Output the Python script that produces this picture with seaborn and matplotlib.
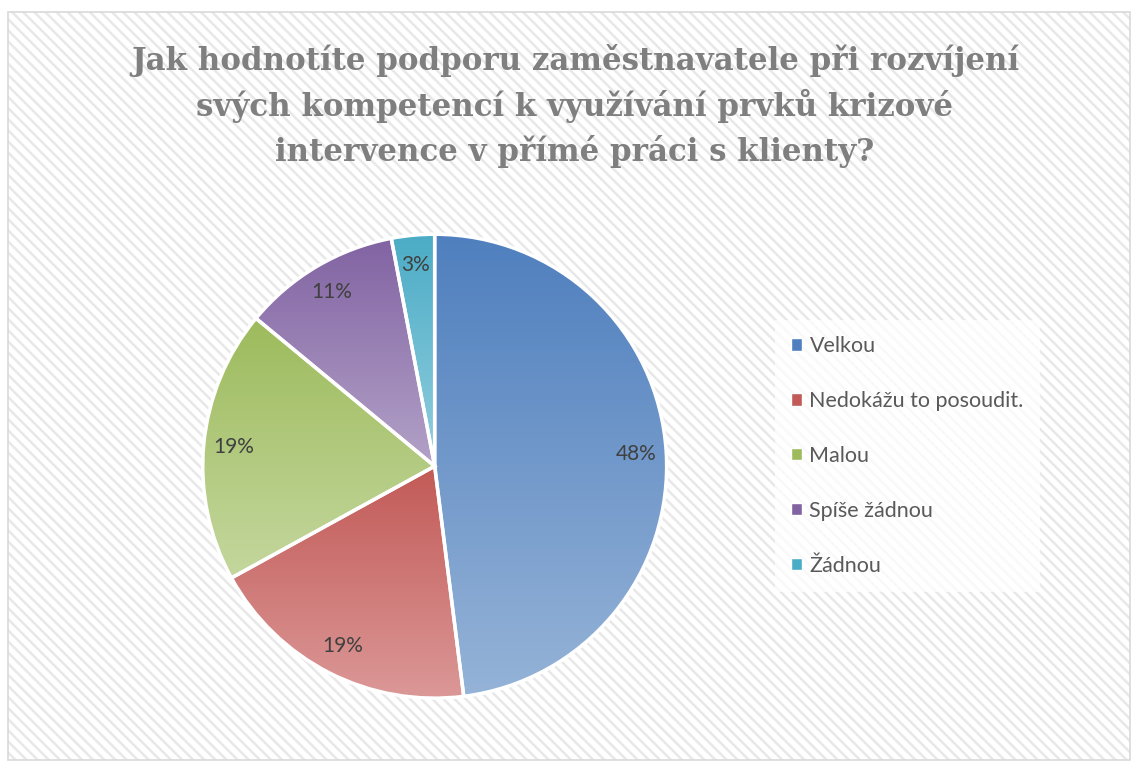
import numpy as np
import matplotlib
matplotlib.use('Agg')
import matplotlib.pyplot as plt
import seaborn as sns
from matplotlib.patches import Rectangle, Patch
from matplotlib.colors import LinearSegmentedColormap

sns.set_theme(style='white')
plt.rcParams['font.family'] = ['Lato', 'DejaVu Sans']
plt.rcParams['hatch.linewidth'] = 1.8

title = ('Jak hodnotíte podporu zaměstnavatele při rozvíjení\n'
         'svých kompetencí k využívání prvků krizové\n'
         'intervence v přímé práci s klienty?')
categories = ['Velkou', 'Nedokážu to posoudit.', 'Malou', 'Spíše žádnou', 'Žádnou']
values = [48, 19, 19, 11, 3]
top_colors = ['#4F7FBE', '#C25A57', '#9DBB5C', '#8163A2', '#4BACC6']
bottom_colors = ['#95B3D7', '#DB9897', '#C4D79E', '#B3A2C8', '#93CEDE']

fig = plt.figure(figsize=(11.32, 7.63), dpi=100)
fig.patch.set_facecolor('white')

# striped background with thin border
W, H = 1132, 763
bg = Rectangle((8 / W, 1 - 760 / H), 1122 / W, 748 / H, transform=fig.transFigure,
               facecolor='white', edgecolor='#E8E8E8', hatch='\\' * 3, linewidth=0, zorder=-2)
fig.patches.append(bg)
border = Rectangle((8 / W, 1 - 760 / H), 1122 / W, 748 / H, transform=fig.transFigure,
                   facecolor='none', edgecolor='#D9D9D9', linewidth=1.2, zorder=-1)
fig.patches.append(border)

ax = fig.add_axes([0.179, 0.085, 0.41, 0.608])
ax.set_facecolor('none')

wedges, texts, autotexts = ax.pie(
    values, startangle=90, counterclock=False, radius=1,
    autopct=lambda p: f'{p:.0f}%', pctdistance=0.87,
    wedgeprops=dict(edgecolor='white', linewidth=2.5),
    textprops=dict(fontsize=15, color='#404040'))

for w, c1, c2 in zip(wedges, top_colors, bottom_colors):
    ext = w.get_path().get_extents()
    cmap = LinearSegmentedColormap.from_list('g', [c2, c1])
    grad = np.linspace(0, 1, 256).reshape(-1, 1)
    im = ax.imshow(grad, cmap=cmap, origin='lower', aspect='auto',
                   extent=[ext.x0, ext.x1, ext.y0, ext.y1], zorder=1)
    im.set_clip_path(w)
    w.set_facecolor('none')
    w.set_zorder(2)
    w.set_clip_on(False)
for t in autotexts:
    t.set_zorder(3)

ax.set_xlim(-1, 1)
ax.set_ylim(-1, 1)
ax.set_aspect('equal')
ax.axis('off')

fig.text(575 / W, 1 - 44 / H, title, ha='center', va='top', fontsize=22.2,
         fontweight='bold', color='#7F7F7F', family=['DejaVu Serif'],
         linespacing=1.45)

handles = [Patch(facecolor=c1, edgecolor='white') for c1 in top_colors]
leg = fig.legend(handles, categories, loc='upper left', bbox_to_anchor=(775 / W, 1 - 320 / H),
                 frameon=True, fancybox=False, facecolor='white', edgecolor='none',
                 framealpha=0.75, fontsize=15.5, labelcolor='#595959',
                 handlelength=0.5, handleheight=0.5, handletextpad=0.35, labelspacing=1.62,
                 borderpad=0.75, borderaxespad=0)

fig.savefig('out.png', dpi=100)
